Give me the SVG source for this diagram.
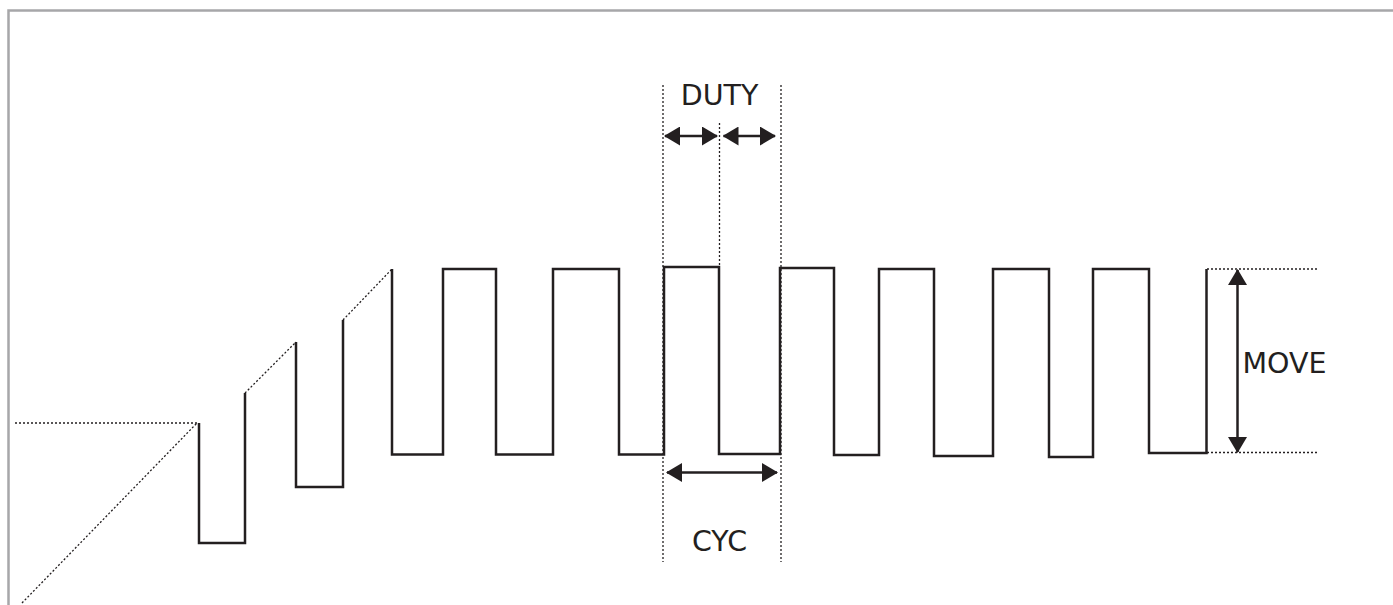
<svg xmlns="http://www.w3.org/2000/svg" width="1393" height="605" viewBox="0 0 1393 605">
<style>
.frame{fill:none;stroke:#a7a7a9;stroke-width:2.5}
.wave{fill:none;stroke:#231f20;stroke-width:2.5;stroke-linejoin:miter}
.dot{fill:none;stroke:#231f20;stroke-width:1.3;stroke-dasharray:2 2}
.arr{fill:none;stroke:#231f20;stroke-width:2.5}
.lbl{font-family:"DejaVu Sans",Verdana,sans-serif;font-size:28.5px;fill:#231f20}
</style>
<defs>
<marker id="ah" viewBox="0 0 16 19" refX="15" refY="9.5" markerWidth="16" markerHeight="19" markerUnits="userSpaceOnUse" orient="auto-start-reverse">
<path d="M0,0 L16,9.5 L0,19 Z" fill="#231f20"/>
</marker>
</defs>
<rect width="1393" height="605" fill="#fff"/>
<path class="frame" d="M8.5,605 V10.5 H1393"/>
<g id="wave">
<path class="wave" d="M199,423 V543 H245 V393"/>
<path class="wave" d="M296,342 V487 H343 V320"/>
<path class="wave" d="M392,269 V454.5 H443 V269 H496 V454.5 H553 V269 H619 V454.5 H664 V267 H719 V454 H780 V268 H834 V455 H879 V269 H934 V456 H993 V269 H1049 V457 H1093 V269 H1149 V453 H1206.5 V269"/>
</g>
<g id="connectors">
<path class="dot" d="M15,423 H197"/>
<path class="dot" d="M22,603 L197,423"/>
<path class="dot" d="M245,393 L296,342"/>
<path class="dot" d="M343,320 L392,269"/>
<path class="dot" d="M663,85 V562"/>
<path class="dot" d="M719.5,123 V266"/>
<path class="dot" d="M781,85 V562"/>
<path class="dot" d="M1207,269 H1318"/>
<path class="dot" d="M1207,452.5 H1318"/>
<path class="arr" d="M665,136 H717" marker-start="url(#ah)" marker-end="url(#ah)"/>
<path class="arr" d="M723.5,136 H775" marker-start="url(#ah)" marker-end="url(#ah)"/>
<path class="arr" d="M667,472.5 H777" marker-start="url(#ah)" marker-end="url(#ah)"/>
<path class="arr" d="M1237.5,270 V452" marker-start="url(#ah)" marker-end="url(#ah)"/>
</g>
<g id="duty"><text class="lbl" x="719.5" y="105" text-anchor="middle">DUTY</text></g>
<g id="cyc"><text class="lbl" x="719.5" y="551" text-anchor="middle">CYC</text></g>
<g id="move"><text class="lbl" x="1242.5" y="373">MOVE</text></g>
</svg>
